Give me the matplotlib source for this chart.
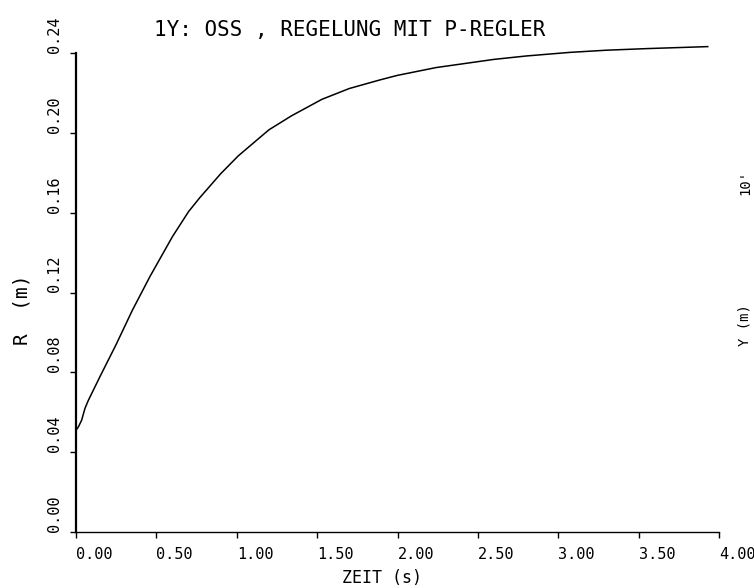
import matplotlib
matplotlib.use('Agg')
import matplotlib.pyplot as plt
import numpy as np

# step response
zeit = [0.0, 0.015, 0.035, 0.056, 0.077, 0.15, 0.25, 0.35, 0.46, 0.60, 0.70,
        0.77, 0.90, 1.01, 1.20, 1.34, 1.53, 1.70, 1.89, 2.00, 2.24, 2.60,
        2.80, 3.07, 3.30, 3.55, 3.93]
r_m = [0.051, 0.0527, 0.056, 0.062, 0.066, 0.078, 0.094, 0.111, 0.128, 0.148,
       0.1605, 0.1675, 0.1795, 0.1885, 0.2015, 0.2085, 0.2168, 0.2222, 0.2265,
       0.2288, 0.2327, 0.2368, 0.2385, 0.2403, 0.2414, 0.2422, 0.2432]

x_ticks = [0.0, 0.5, 1.0, 1.5, 2.0, 2.5, 3.0, 3.5, 4.0]
x_labels = ['0.00', '0.50', '1.00', '1.50', '2.00', '2.50', '3.00', '3.50', '4.00']
y_ticks = [0.0, 0.04, 0.08, 0.12, 0.16, 0.20, 0.24]
y_labels = ['0.00', '0.04', '0.08', '0.12', '0.16', '0.20', '0.24']

mono = 'DejaVu Sans Mono'

fig = plt.figure(figsize=(7.54, 5.88), dpi=100)
ax = fig.add_axes([76 / 754, 1 - 532 / 588, (719 - 76) / 754, (532 - 53) / 588])

ax.plot(zeit, r_m, color='black', lw=1.1, clip_on=False)

ax.set_xlim(0, 4)
ax.set_ylim(0, 0.24)
for s in ['top', 'right']:
    ax.spines[s].set_visible(False)
ax.spines['left'].set_linewidth(1.6)
ax.spines['bottom'].set_linewidth(1.0)

ax.set_xticks(x_ticks)
ax.set_xticklabels(x_labels, family=mono, fontsize=11, ha='left')
ax.set_yticks(y_ticks)
ax.set_yticklabels(y_labels, family=mono, fontsize=11, rotation=90, va='bottom')
ax.tick_params(axis='x', direction='out', length=4, width=1, pad=7)
ax.tick_params(axis='y', direction='out', length=4, width=1, pad=6)

fig.text(350 / 754, 1 - 30 / 588, "1Y: OSS , REGELUNG MIT P-REGLER",
         family=mono, fontsize=15, ha='center', va='center')
fig.text(382 / 754, 1 - 578 / 588, "ZEIT (s)", family=mono, fontsize=12,
         ha='center', va='center')
fig.text(22 / 754, 1 - 310 / 588, "R  (m)", family=mono, fontsize=14,
         rotation=90, ha='center', va='center')

# labels of the neighbouring plot at the right edge
fig.text(745 / 754, 1 - 182 / 588, "10'", family=mono, fontsize=10,
         rotation=90, ha='center', va='center')
fig.text(745 / 754, 1 - 325 / 588, "Y (m)", family=mono, fontsize=10,
         rotation=90, ha='center', va='center')

fig.savefig('out.png', dpi=100)
